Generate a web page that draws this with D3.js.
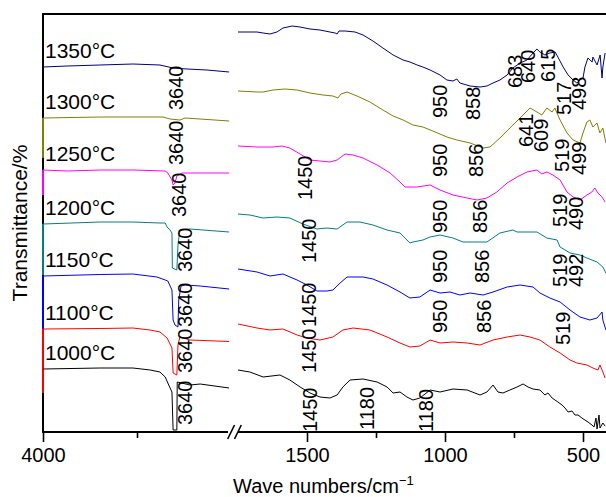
<!DOCTYPE html>
<html>
<head>
<meta charset="utf-8">
<script src="https://cdn.jsdelivr.net/npm/d3@7"></script>
<style>
  html, body { margin: 0; padding: 0; background: #fff; }
  svg { display: block; }
  text { font-family: "Liberation Sans", Arial, Helvetica, sans-serif; fill: #000; }
</style>
</head>
<body>
<svg id="chart" width="606" height="497"></svg>
<script>
// ---------------- DATA ----------------
const seriesNames = ["1350°C", "1300°C", "1250°C", "1200°C", "1150°C", "1100°C", "1000°C"];

// [wavenumber (cm-1), transmittance (arbitrary offset units)]
const s1350 = [[4000,365],[3936,366],[3848,367],[3761,368],[3689,367],[3654,364],[3617,363],[3564,362],[3505,360],
  [1750,400],[1681,400],[1659,399],[1634,398],[1609,400],[1587,404],[1554,406],[1525,405],[1489,403],[1453,402],[1417,400],[1398,399],[1391,398],[1384,401],[1362,401],[1326,400],[1297,397],[1261,391],[1225,384],[1188,377],[1152,372],[1127,370],[1101,367],[1080,365],[1054,362],[1018,357],[993,352],[971,351],[957,353],[946,349],[909,346],[873,345],[848,346],[826,349],[801,352],[775,357],[754,364],[728,369],[703,372],[681,379],[667,383],[656,380],[638,377],[620,379],[601,380],[591,375],[572,365],[554,357],[536,352],[522,349],[511,352],[500,354],[493,365],[482,374],[467,370],[464,375],[449,367],[438,377],[431,354],[428,365],[420,379]];
const s1300 = [[4000,314],[3848,315],[3761,315],[3681,315],[3662,313],[3636,312],[3622,314],[3582,313],[3505,311],
  [1750,341],[1681,340],[1659,340],[1623,342],[1580,343],[1536,342],[1489,339],[1442,337],[1406,336],[1388,334],[1377,338],[1355,340],[1319,336],[1272,330],[1225,322],[1188,316],[1152,312],[1116,307],[1080,305],[1044,301],[993,295],[957,292],[909,289],[862,284],[837,285],[801,294],[765,304],[728,314],[692,324],[667,320],[649,317],[631,324],[612,320],[602,324],[583,312],[558,299],[536,292],[511,289],[500,299],[486,310],[475,312],[464,305],[449,309],[439,299],[428,304],[417,289]];
const s1250 = [[4000,262],[3936,261],[3848,262],[3761,262],[3675,261],[3668,259],[3657,252],[3654,247],[3649,249],[3644,256],[3630,259],[3582,259],[3505,259],
  [1750,286],[1681,285],[1623,285],[1591,286],[1562,284],[1525,278],[1489,272],[1453,271],[1417,270],[1391,272],[1362,278],[1333,277],[1297,274],[1246,267],[1199,259],[1163,250],[1145,245],[1102,245],[1054,247],[1018,242],[971,237],[920,234],[884,232],[848,234],[812,240],[775,249],[739,255],[703,260],[667,262],[649,258],[631,260],[609,257],[583,252],[558,240],[536,235],[511,232],[486,237],[468,240],[457,244],[446,239],[431,235],[420,230]];
const s1200 = [[4000,208],[3848,210],[3761,210],[3689,209],[3675,209],[3670,205],[3662,202],[3657,199],[3656,164],[3644,162],[3641,187],[3636,202],[3609,203],[3505,200],
  [1750,218],[1707,217],[1659,214],[1609,215],[1562,214],[1515,208],[1464,203],[1428,204],[1391,203],[1355,210],[1308,210],[1261,207],[1210,202],[1163,199],[1127,189],[1116,190],[1080,192],[1054,195],[1018,197],[971,194],[935,190],[899,190],[848,190],[801,199],[754,202],[739,200],[703,200],[667,200],[631,194],[594,192],[583,185],[547,179],[511,177],[486,174],[449,170],[428,165],[417,159]];
const s1150 = [[4000,156],[3848,157.5],[3761,158],[3697,155],[3675,152],[3668,151],[3657,142],[3654,112],[3649,107],[3641,105],[3639,132],[3633,146],[3622,147],[3582,146],[3505,143],
  [1750,163],[1681,160],[1634,156],[1587,158],[1536,152],[1500,147],[1464,141],[1428,141],[1406,142],[1380,149],[1355,155],[1297,155],[1261,153],[1210,147],[1163,140],[1127,134],[1091,135],[1054,142],[1018,139],[982,140],[946,137],[909,139],[862,137],[826,140],[775,145],[728,147],[681,145],[656,139],[620,134],[583,130],[547,122],[511,115],[475,112],[449,114],[431,120],[428,112],[417,102]];
const s1100 = [[4000,103],[3848,103.5],[3761,104],[3715,102],[3689,100],[3670,94],[3657,84],[3654,59],[3644,57],[3641,87],[3636,95],[3609,92],[3505,90.5],
  [1750,108],[1681,104],[1634,102],[1587,103],[1536,97],[1500,94],[1453,92],[1406,95],[1370,102],[1333,104],[1272,102],[1210,95],[1163,89],[1127,85],[1091,86],[1054,92],[1018,89],[971,90],[920,89],[873,87],[826,92],[775,95],[728,97],[692,95],[656,92],[620,85],[583,79],[547,72],[522,69],[486,67],[464,64],[446,62],[438.5,67],[428,60],[420,54]];
const s1000 = [[4000,63],[3848,64],[3761,64],[3715,62],[3689,60],[3675,55],[3668,49],[3657,40],[3654,2],[3644,2],[3643,50],[3609,47],[3582,48],[3505,44],
  [1750,62],[1707,60],[1659,55],[1598,57],[1562,52],[1525,45],[1489,39],[1453,35],[1417,34],[1391,37],[1370,45],[1344,52],[1297,53],[1246,50],[1210,45],[1188,39],[1163,40],[1138,35],[1116,32],[1091,34],[1054,42],[1018,40],[971,43],[920,42],[873,37],[848,40],[826,47],[808,40],[790,39],[765,42],[739,45],[717,48],[699,45],[681,43],[656,42],[638,37],[627,39],[612,34],[601.5,32],[591,30],[576,27],[565,24],[554,20],[540,21],[529,17],[518,17],[504,14],[493,12],[482,10],[467.5,7],[460,5],[453,14],[449,3],[442,17],[438.5,4],[428,9],[420,6]];

const seriesData = [s1350, s1300, s1250, s1200, s1150, s1100, s1000];

// lower end of each trace's drop line along the 4000 cm-1 edge (null = none)
const edgeTails = [null, 274, 237, 157, 103, 39, null];

// peak annotations: [label, wavenumber, transmittance at text start]
const peakLabels = [
  ["3640",3646,322],["3640",3646,267],["3640",3638,215],["3640",3622,160],["3640",3622,105],["3640",3622,59],["3640",3622,7],
  ["950",1018,314],["858",899,312],["683",746,344],["640",699,349],["615",627,350],["517",569,317],["498",515,322],
  ["950",1018,255],["856",888,255],["641",707,285],["609",652,280],["519",576,260],["499",515,257],
  ["1450",1507,232],["950",1018,199],["856",873,199],["519",583,205],["490",525,202],
  ["1450",1493,169],["950",1018,149],["856",866,149],["519",583,145],["492",525,145],
  ["1450",1493,105],["950",1018,99],["856",859,99],["519",572,87],
  ["1450",1493,59],
  ["1450",1489,0],["1180",1283,2],["1180",1069,0]
];

const leftMajorTicks = [4000];
const leftMinorTicks = [3750];
const rightMajorTicks = [1500, 1000, 500];
const rightMinorTicks = [1250, 750];

const xLeftDomain = [4000, 3500];
const xRightDomain = [1750, 400];
const yDomain = [0, 418];
const breakWN = 3000;

const xTitle = "Wave numbers/cm";
const xTitleSup = "\u22121";
const yTitle = "Transmittance/%";

// ---------------- STYLES ----------------
const seriesColors = ["#000080", "#808000", "#ff00ff", "#008080", "#0000ff", "#ff0000", "#000000"];

// ---------------- DRAW ----------------
const svg = d3.select("#chart");
const W = 606, H = 497;
svg.append("rect").attr("width", W).attr("height", H).attr("fill", "#fff");

const plotLeft = 43, plotTop = 14, plotBottom = 432;
const xLeft = d3.scaleLinear().domain(xLeftDomain).range([plotLeft, 231]);
const xRight = d3.scaleLinear().domain(xRightDomain).range([238, 610.6]);
const y = d3.scaleLinear().domain(yDomain).range([plotBottom, plotTop]);
const xs = wn => wn > breakWN ? xLeft(wn) : xRight(wn);

// frame
svg.append("line").attr("x1", plotLeft).attr("x2", plotLeft).attr("y1", plotTop - 1).attr("y2", plotBottom + 1)
  .attr("stroke", "#000").attr("stroke-width", 2);
svg.append("line").attr("x1", plotLeft - 1).attr("x2", W).attr("y1", plotTop).attr("y2", plotTop)
  .attr("stroke", "#000").attr("stroke-width", 2);

// bottom axis: two segments with a break
const axisG = svg.append("g").attr("transform", `translate(0,${plotBottom})`);
const leftEnd = xLeft(3508);
const rightStart = xRight(xRightDomain[0]);
axisG.append("line").attr("x1", plotLeft - 1).attr("x2", leftEnd).attr("y1", 0).attr("y2", 0)
  .attr("stroke", "#000").attr("stroke-width", 2);
axisG.append("line").attr("x1", rightStart).attr("x2", W).attr("y1", 0).attr("y2", 0)
  .attr("stroke", "#000").attr("stroke-width", 2);
const bx = (xLeft(xLeftDomain[1]) + rightStart) / 2;
[-3.4, 3.4].forEach(o => {
  axisG.append("line").attr("x1", bx + o - 3.4).attr("y1", 7).attr("x2", bx + o + 3.4).attr("y2", -7)
    .attr("stroke", "#000").attr("stroke-width", 1.6);
});

function styleAxis(g) {
  g.select(".domain").remove();
  g.selectAll(".tick line").attr("stroke", "#000").attr("stroke-width", 1.6);
  g.selectAll(".tick text").attr("font-size", 20).attr("y", 16)
    .attr("font-family", "'Liberation Sans', Arial, sans-serif").attr("fill", "#000");
  g.attr("font-family", null).attr("font-size", null);
}
axisG.append("g").call(d3.axisBottom(xLeft).tickValues(leftMajorTicks).tickSize(10).tickFormat(d3.format("d"))).call(styleAxis);
axisG.append("g").call(d3.axisBottom(xLeft).tickValues(leftMinorTicks).tickSize(6).tickFormat("")).call(styleAxis);
axisG.append("g").call(d3.axisBottom(xRight).tickValues(rightMajorTicks).tickSize(10).tickFormat(d3.format("d"))).call(styleAxis);
axisG.append("g").call(d3.axisBottom(xRight).tickValues(rightMinorTicks).tickSize(6).tickFormat("")).call(styleAxis);

// spectra
const line = d3.line().x(d => xs(d[0])).y(d => y(d[1]));
const specG = svg.append("g");
seriesData.forEach((s, i) => {
  const left = s.filter(d => d[0] > breakWN);
  const right = s.filter(d => d[0] <= breakWN);
  [left, right].forEach(part => {
    specG.append("path").attr("d", line(part)).attr("fill", "none")
      .attr("stroke", seriesColors[i]).attr("stroke-width", 1).attr("stroke-linejoin", "round");
  });
  if (edgeTails[i] !== null) {
    specG.append("line").attr("x1", xLeft(s[0][0])).attr("x2", xLeft(s[0][0]))
      .attr("y1", y(s[0][1])).attr("y2", y(edgeTails[i]))
      .attr("stroke", seriesColors[i]).attr("stroke-width", 2);
  }
  // temperature label
  svg.append("text").attr("x", plotLeft + 2).attr("y", y(s[0][1]) - 9)
    .attr("font-size", 21).text(seriesNames[i]);
});

// peak annotations
const annG = svg.append("g");
peakLabels.forEach(([lab, wn, v]) => {
  annG.append("text")
    .attr("transform", `translate(${xs(wn)},${y(v)}) rotate(-90)`)
    .attr("text-anchor", "start").attr("dy", "0.35em")
    .attr("font-size", 20).text(lab);
});

// axis titles
const xt = svg.append("text").attr("x", 233).attr("y", 493).attr("font-size", 20);
xt.append("tspan").text(xTitle);
xt.append("tspan").attr("font-size", 13).attr("dy", -8).text(xTitleSup);

svg.append("text").attr("transform", "translate(27,223) rotate(-90)")
  .attr("text-anchor", "middle").attr("font-size", 21).text(yTitle);
</script>
</body>
</html>
